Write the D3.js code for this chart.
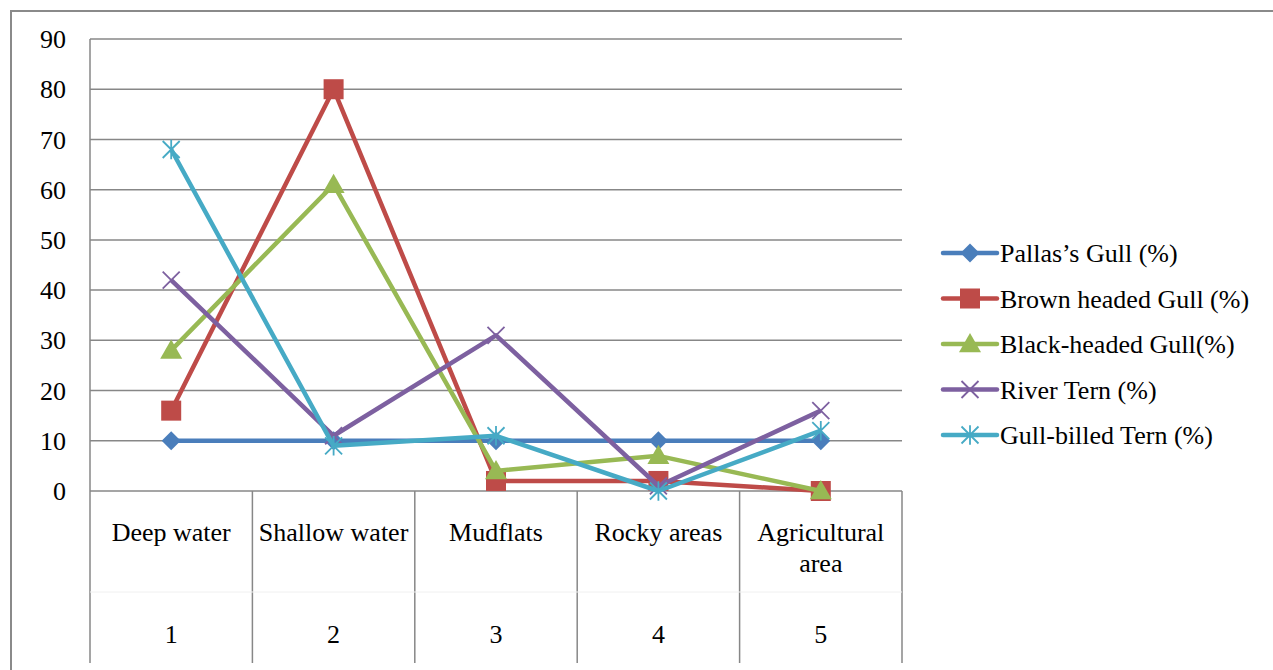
<!DOCTYPE html>
<html>
<head>
<meta charset="utf-8">
<script src="https://cdn.jsdelivr.net/npm/d3@7"></script>
<style>
  html, body { margin: 0; padding: 0; background: #fff; }
  svg { display: block; font-family: "Liberation Serif", "Times New Roman", serif; }
</style>
</head>
<body>
<svg id="chart" width="1273" height="670"></svg>
<script>
// Habitat categories and their index row
const categories = ["Deep water", "Shallow water", "Mudflats", "Rocky areas", "Agricultural area"];
const categoryIndex = ["1", "2", "3", "4", "5"];
const yTicks = [0, 10, 20, 30, 40, 50, 60, 70, 80, 90];

// Percentage of each species per habitat
const seriesNames = ["Pallas\u2019s Gull (%)", "Brown headed Gull (%)", "Black-headed Gull(%)", "River Tern (%)", "Gull-billed Tern (%)"];
const pallasGull = [10, 10, 10, 10, 10];
const brownHeadedGull = [16, 80, 2, 2, 0];
const blackHeadedGull = [28, 61, 4, 7, 0];
const riverTern = [42, 11, 31, 1, 16];
const gullBilledTern = [68, 9, 11, 0, 12];

const seriesColors = ["#4a7ebb", "#be4b48", "#98b954", "#7d60a0", "#46aac5"];
const seriesMarkers = ["diamond", "square", "triangle", "x", "star"];
const seriesValues = [pallasGull, brownHeadedGull, blackHeadedGull, riverTern, gullBilledTern];

const svg = d3.select("#chart");
const plot = { left: 90, right: 902, top: 39, bottom: 491 };
const gridColor = "#878787";
const fontSize = 26;

// Outer chart frame (right and bottom edges run off the canvas)
svg.append("path")
  .attr("d", "M11,680 L11,11 L1290,11")
  .attr("fill", "none").attr("stroke", "#8a8a8a").attr("stroke-width", 2);

const x = d3.scaleBand().domain(categories).range([plot.left, plot.right]).padding(0);
const y = d3.scaleLinear().domain([0, 90]).range([plot.bottom, plot.top]);

// Horizontal gridlines
svg.append("g").selectAll("line").data(yTicks).join("line")
  .attr("x1", plot.left).attr("x2", plot.right)
  .attr("y1", d => y(d)).attr("y2", d => y(d))
  .attr("stroke", gridColor).attr("stroke-width", 1.5);

// Value axis line
svg.append("line")
  .attr("x1", plot.left).attr("x2", plot.left)
  .attr("y1", plot.top).attr("y2", plot.bottom)
  .attr("stroke", gridColor).attr("stroke-width", 1.5);

// Value axis labels
svg.append("g").selectAll("text").data(yTicks).join("text")
  .attr("x", 66).attr("y", d => y(d))
  .attr("dy", "0.35em").attr("text-anchor", "end")
  .attr("font-size", fontSize).attr("fill", "#000")
  .text(d => d);

// Category table: cell dividers below the plot
const tableBottom = 663;
const boundaries = categories.map(c => x(c)).concat([x(categories[categories.length - 1]) + x.bandwidth()]);
svg.append("g").selectAll("line").data(boundaries).join("line")
  .attr("x1", d => d).attr("x2", d => d)
  .attr("y1", plot.bottom).attr("y2", tableBottom)
  .attr("stroke", gridColor).attr("stroke-width", 1.5);

// faint separator between the two label rows
svg.append("line")
  .attr("x1", plot.left).attr("x2", plot.right)
  .attr("y1", 592).attr("y2", 592)
  .attr("stroke", "#f0f0f0").attr("stroke-width", 1);

// Category names (wrapped where needed)
const catLabels = svg.append("g");
categories.forEach(c => {
  const cx = x(c) + x.bandwidth() / 2;
  const words = c === "Agricultural area" ? ["Agricultural", "area"] : [c];
  words.forEach((w, i) => {
    catLabels.append("text")
      .attr("x", cx).attr("y", 541 + i * 31)
      .attr("text-anchor", "middle").attr("font-size", fontSize).attr("fill", "#000")
      .text(w);
  });
});

// Index row
svg.append("g").selectAll("text").data(categoryIndex).join("text")
  .attr("x", (d, i) => x(categories[i]) + x.bandwidth() / 2)
  .attr("y", 643)
  .attr("text-anchor", "middle").attr("font-size", fontSize).attr("fill", "#000")
  .text(d => d);

// Marker shapes
function drawMarker(g, type, cx, cy, color) {
  if (type === "diamond") {
    const r = 9.5;
    g.append("path").attr("d", `M${cx},${cy - r}L${cx + r},${cy}L${cx},${cy + r}L${cx - r},${cy}Z`).attr("fill", color);
  } else if (type === "square") {
    const r = 10;
    g.append("rect").attr("x", cx - r).attr("y", cy - r).attr("width", 2 * r).attr("height", 2 * r).attr("fill", color);
  } else if (type === "triangle") {
    const r = 11;
    g.append("path").attr("d", `M${cx},${cy - r}L${cx + r},${cy + r * 0.75}L${cx - r},${cy + r * 0.75}Z`).attr("fill", color);
  } else if (type === "x") {
    const r = 8.5;
    g.append("path").attr("d", `M${cx - r},${cy - r}L${cx + r},${cy + r}M${cx + r},${cy - r}L${cx - r},${cy + r}`)
      .attr("stroke", color).attr("stroke-width", 1.8).attr("fill", "none");
  } else if (type === "star") {
    const r = 8.5;
    g.append("path").attr("d", `M${cx - r},${cy - r}L${cx + r},${cy + r}M${cx + r},${cy - r}L${cx - r},${cy + r}M${cx},${cy - r * 1.15}L${cx},${cy + r * 1.15}`)
      .attr("stroke", color).attr("stroke-width", 1.8).attr("fill", "none");
  }
}

// Series lines and markers
const line = d3.line()
  .x((d, i) => x(categories[i]) + x.bandwidth() / 2)
  .y(d => y(d));

seriesValues.forEach((vals, si) => {
  const g = svg.append("g");
  g.append("path").datum(vals)
    .attr("d", line)
    .attr("fill", "none")
    .attr("stroke", seriesColors[si])
    .attr("stroke-width", 4.5)
    .attr("stroke-linejoin", "round");
  vals.forEach((v, i) => {
    drawMarker(g, seriesMarkers[si], x(categories[i]) + x.bandwidth() / 2, y(v), seriesColors[si]);
  });
});

// Legend
const legend = svg.append("g");
seriesNames.forEach((name, i) => {
  const ly = 253 + i * 45.5;
  legend.append("line")
    .attr("x1", 943).attr("x2", 997).attr("y1", ly).attr("y2", ly)
    .attr("stroke", seriesColors[i]).attr("stroke-width", 4.5).attr("stroke-linecap", "round");
  drawMarker(legend, seriesMarkers[i], 970, ly, seriesColors[i]);
  legend.append("text")
    .attr("x", 1000).attr("y", ly).attr("dy", "0.35em")
    .attr("font-size", fontSize).attr("fill", "#000")
    .text(name);
});
</script>
</body>
</html>
